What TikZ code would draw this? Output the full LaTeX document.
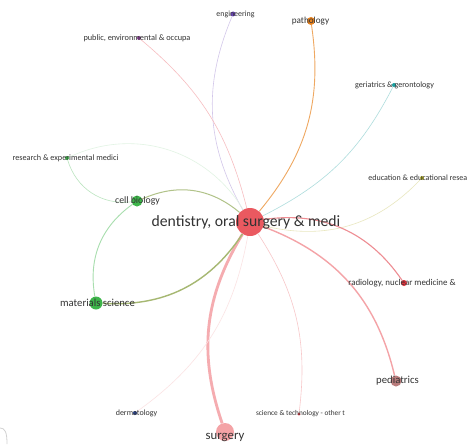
\documentclass[tikz,border=0pt]{standalone}
\usepackage{fontspec}
\setmainfont{Carlito}
\usetikzlibrary{backgrounds}
\definecolor{cred}{HTML}{E8474F}
\definecolor{csurg}{HTML}{F4A3A6}
\definecolor{cped}{HTML}{B97C7C}
\definecolor{crad}{HTML}{E0303A}
\definecolor{cgreen}{HTML}{3DB54A}
\definecolor{cpurple}{HTML}{8A3E96}
\definecolor{cviolet}{HTML}{6B45B8}
\definecolor{corange}{HTML}{E8821E}
\definecolor{cteal}{HTML}{1A9E9E}
\definecolor{colive}{HTML}{B5B02A}
\definecolor{cnavy}{HTML}{24418F}
\definecolor{ctext}{HTML}{333333}
\tikzset{
  dot/.style={circle, inner sep=0pt, minimum size=#1, draw=none},
  lab/.style={text=ctext, inner sep=0pt, font=\fontsize{#1}{#1}\selectfont},
  edge/.style={line width=0.6pt},
}
\begin{document}
\begin{tikzpicture}[x=1pt,y=-1pt]
\useasboundingbox (0,0) rectangle (468,444);
\clip (0,0) rectangle (468,444);

% nodes (circles)
\node[dot=28pt, fill=cred, fill opacity=0.9] (den) at (250,222) {};
\node[dot=18pt, fill=csurg] (sur) at (225,432) {};
\node[dot=11pt, fill=cped] (ped) at (396,381) {};
\node[dot=6pt, fill=crad] (rad) at (404,283) {};
\node[dot=3pt, fill=crad] (sci) at (299,414) {};
\node[dot=4pt, fill=cnavy] (der) at (135,413) {};
\node[dot=13pt, fill=cgreen] (mat) at (96,303) {};
\node[dot=11pt, fill=cgreen] (cel) at (137,201) {};
\node[dot=4pt, fill=cgreen] (res) at (67,158) {};
\node[dot=4pt, fill=cpurple] (pub) at (139,38) {};
\node[dot=5pt, fill=cviolet] (eng) at (233,14) {};
\node[dot=8pt, fill=corange] (pat) at (311,21) {};
\node[dot=4pt, fill=cteal] (ger) at (394,85) {};
\node[dot=4pt, fill=colive] (edu) at (422,178) {};

% edges
\begin{scope}[on background layer]
\fill[white] (0,0) rectangle (468,444);
\draw[edge, cviolet!30] (den) to[bend left=26] (eng);
\draw[edge, cred!35] (den) to[bend right=18] (pub);
\draw[edge, corange!70, line width=0.9pt] (den) to[bend right=24] (pat);
\draw[edge, cteal!35] (den) to[bend right=18] (ger);
\draw[edge, colive!30] (den) to[bend right=30] (edu);
\draw[edge, crad!55, line width=1.1pt] (den) to[bend left=32] (rad);
\draw[edge, cred!50, line width=1.4pt] (den) to[bend left=28] (ped);
\draw[edge, cred!30] (den) to[bend left=20] (sci);
\draw[edge, cred!45, line width=2.8pt] (den) to[bend right=25] (sur);
\draw[edge, cred!15] (den) to[bend left=22] (der);
\draw[edge, olive!45!cgreen!65, line width=1.4pt] (den) to[bend left=30] (mat);
\draw[edge, olive!40!cgreen!55, line width=1pt] (den) to[bend right=32] (cel);
\draw[edge, cgreen!15] (res) to[bend left=42] (den);
\draw[edge, cgreen!35] (res) to[bend right=40] (cel);
\draw[edge, cgreen!45, line width=0.9pt] (cel) to[bend right=32] (mat);
\end{scope}

% labels
\node[lab=15.7] (lden) at (246,222) {dentistry, oral surgery \& medi};
\node[lab=12.8] (lsur) at (225,437) {surgery};
\node[lab=10.7] (lped) at (397.5,381) {pediatrics};
\node[lab=8.9] (lrad) at (402,283) {radiology, nuclear medicine \&};
\node[lab=7.3] (lsci) at (300.5,414) {science \& technology - other t};
\node[lab=8] (lder) at (136.5,413) {dermatology};
\node[lab=10.7] (lmat) at (97.5,303) {materials science};
\node[lab=9.8] (lcel) at (137.5,201) {cell biology};
\node[lab=8.2] (lres) at (65.5,158) {research \& experimental medici};
\node[lab=8.3] (lpub) at (137,38) {public, environmental \& occupa};
\node[lab=7.9] (leng) at (235.5,14) {engineering};
\node[lab=9.2] (lpat) at (310.5,21) {pathology};
\node[lab=8.1] (lger) at (394.5,85) {geriatrics \& gerontology};
\node[lab=8, anchor=east] (ledu) at (467.5,178) {education \& educational resea};

% partial grey outline at bottom-left corner
\draw[gray!35, line width=0.8pt] (0,428) .. controls (5,428) and (7,432) .. (7,444);
\end{tikzpicture}
\end{document}
